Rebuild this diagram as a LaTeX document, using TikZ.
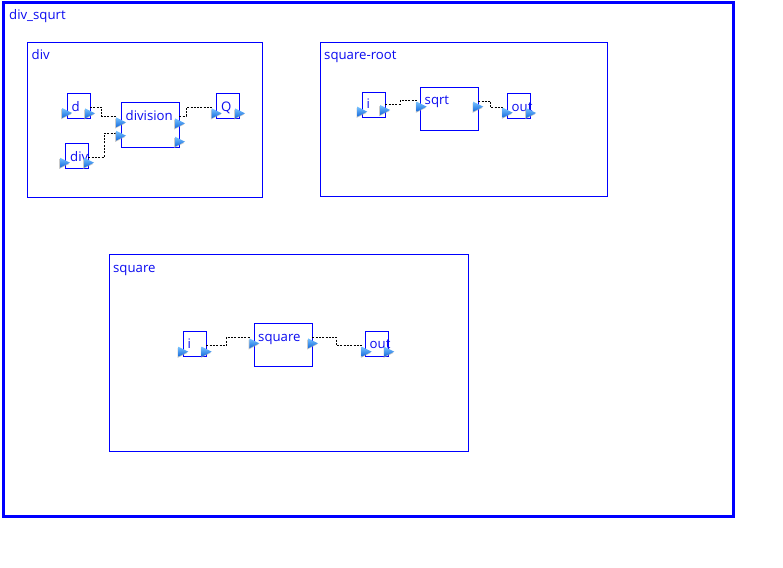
\documentclass[tikz,border=0pt]{standalone}
\usepackage{fontspec}
\setmainfont{Open Sans}
\definecolor{bluebox}{rgb}{0,0,1}
\definecolor{txtblue}{RGB}{10,10,240}
\definecolor{porttop}{RGB}{120,195,255}
\definecolor{portbot}{RGB}{20,105,220}
\tikzset{
  frame/.style={draw=bluebox, line width=3pt, anchor=north west, inner sep=0pt},
  grp/.style={draw=bluebox, line width=0.9pt, anchor=north west, inner sep=0pt},
  blk/.style={draw=bluebox, line width=1.1pt, anchor=north west, inner sep=0pt},
  lbl/.style={anchor=base west, inner sep=0pt, text=txtblue, font=\fontsize{13.2}{15}\selectfont},
  conn/.style={draw=black, line width=0.8pt, dash pattern=on 2pt off 1.3pt},
}
\newcommand\portri[2]{%
  \coordinate (#1) at #2;
  \fill[black!35, opacity=0.6] ([xshift=-0.8pt,yshift=-1.2pt]#1) -- ++(10,5) -- ++(-10,5) -- cycle;
  \shade[top color=porttop, bottom color=portbot] (#1) -- ++(10,5) -- ++(-10,5) -- cycle;
}
\begin{document}
\begin{tikzpicture}[x=1pt,y=-1pt]
\useasboundingbox (0,0) rectangle (783,567);
% outer frame
\node[frame, minimum width=730pt, minimum height=514pt] (top) at (1.5,1.2) {};
\node[lbl] (topL) at (9,20) {div\_squrt};
% groups
\node[grp, minimum width=235pt, minimum height=155pt] (gdiv) at (27,42) {};
\node[lbl] (gdivL) at (31.5,60) {div};
\node[grp, minimum width=287pt, minimum height=154pt] (gsqrt) at (320,42) {};
\node[lbl] (gsqrtL) at (324,60) {square-root};
\node[grp, minimum width=359pt, minimum height=197pt] (gsq) at (109,254) {};
\node[lbl] (gsqL) at (113,272) {square};
% div group blocks
\node[blk, minimum width=23pt, minimum height=25pt] (d) at (67,93) {};
\node[lbl] (dL) at (71.5,111) {d};
\node[blk, minimum width=23pt, minimum height=25pt] (dv) at (65.3,143.3) {};
\node[lbl] (dvL) at (70,161.5) {div};
\node[blk, minimum width=58pt, minimum height=45pt] (division) at (121.3,102.3) {};
\node[lbl] (divisionL) at (125.5,120) {division};
\node[blk, minimum width=23pt, minimum height=25pt] (Q) at (216.3,93.3) {};
\node[lbl] (QL) at (221,111.5) {Q};
% square-root group blocks
\node[blk, minimum width=23pt, minimum height=25pt] (ri) at (362.3,91.7) {};
\node[lbl] (riL) at (366.5,108.5) {i};
\node[blk, minimum width=58pt, minimum height=43pt] (sqrt) at (420.3,87.3) {};
\node[lbl] (sqrtL) at (424.5,105) {sqrt};
\node[blk, minimum width=23pt, minimum height=25pt] (ro) at (507.3,93.3) {};
\node[lbl] (roL) at (511.5,111.5) {out};
% square group blocks
\node[blk, minimum width=23pt, minimum height=25pt] (si) at (183.3,331) {};
\node[lbl] (siL) at (187.5,348.5) {i};
\node[blk, minimum width=58.3pt, minimum height=43.3pt] (square) at (254,323) {};
\node[lbl] (squareL) at (258,341.5) {square};
\node[blk, minimum width=23pt, minimum height=25pt] (so) at (365.3,331) {};
\node[lbl] (soL) at (369.5,348.5) {out};
% connector ends
\coordinate (dOut) at (90,107.3);
\coordinate (divisionIn1) at (116.5,116.3);
\coordinate (dvOut) at (88.3,157.3);
\coordinate (divisionIn2) at (116.5,133.3);
\coordinate (divisionOut1) at (179.3,116.3);
\coordinate (QIn) at (212,107.7);
\coordinate (riOut) at (385.3,104);
\coordinate (sqrtIn) at (416.7,100.7);
\coordinate (sqrtOut) at (478.3,101);
\coordinate (roIn) at (503,107.7);
\coordinate (siOut) at (206.3,345.3);
\coordinate (squareIn) at (250,337);
\coordinate (squareOut) at (312.3,337);
\coordinate (soIn) at (362,345.3);
% connectors
\draw[conn] (dOut) -- ++(11.7,0) |- (divisionIn1);
\draw[conn] (dvOut) -- ++(15.7,0) |- (divisionIn2);
\draw[conn] (divisionOut1) -- ++(6.7,0) |- (QIn);
\draw[conn] (riOut) -- ++(14.7,0) |- (sqrtIn);
\draw[conn] (sqrtOut) -- ++(12.4,0) |- (roIn);
\draw[conn] (siOut) -- ++(20.4,0) |- (squareIn);
\draw[conn] (squareOut) -- ++(23.7,0) |- (soIn);
% ports
\portri{pdI}{(62,108)}
\portri{pdO}{(85,108.3)}
\portri{pdvI}{(60,157.7)}
\portri{pdvO}{(84,157.7)}
\portri{pdivI1}{(116,117.3)}
\portri{pdivI2}{(116,130.7)}
\portri{pdivO1}{(175,118.3)}
\portri{pdivO2}{(175,136.7)}
\portri{pQI}{(211.7,108.3)}
\portri{pQO}{(235,108.3)}
\portri{priI}{(357.3,106.7)}
\portri{priO}{(380,105)}
\portri{psqrtI}{(416.7,101.7)}
\portri{psqrtO}{(473.3,101.7)}
\portri{proI}{(502.7,107.7)}
\portri{proO}{(526,108)}
\portri{psiI}{(178.3,346.7)}
\portri{psiO}{(201.7,346.7)}
\portri{psqI}{(249.3,338.3)}
\portri{psqO}{(308,338.3)}
\portri{psoI}{(361.7,346.7)}
\portri{psoO}{(384.3,346.7)}
\end{tikzpicture}
\end{document}
